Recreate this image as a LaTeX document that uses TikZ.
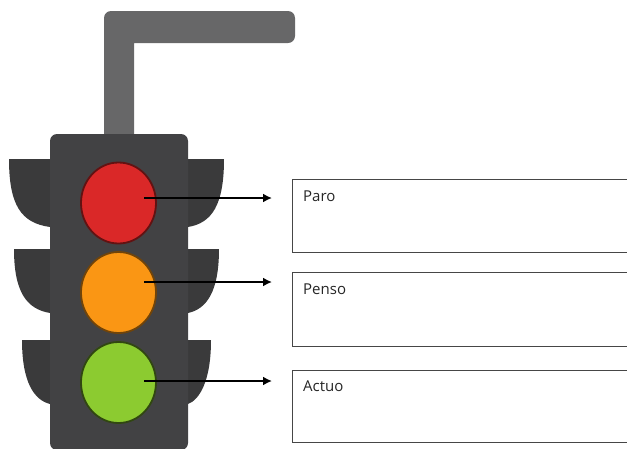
\documentclass[tikz,border=0pt]{standalone}
\usepackage{xcolor}
\usepackage{fontspec}
\setmainfont{Open Sans}
\usepackage{tikz}
\usetikzlibrary{shapes.geometric,arrows.meta}
\definecolor{PoleGray}{RGB}{103,103,104}
\definecolor{BodyGray}{RGB}{66,66,68}
\definecolor{VisorGray}{RGB}{58,58,59}
\definecolor{StopRed}{RGB}{218,40,40}
\definecolor{WaitOrange}{RGB}{250,150,20}
\definecolor{GoGreen}{RGB}{140,203,48}
\definecolor{BoxGray}{RGB}{70,70,70}
\tikzset{
  lamp/.style={ellipse, draw, line width=1.8pt, minimum width=75pt, minimum height=81pt, inner sep=0pt},
  answerbox/.style={draw=BoxGray, line width=1.2pt, fill=white, minimum width=340pt, anchor=north west, inner sep=0pt},
  boxtext/.style={font=\fontsize{15}{17}\selectfont, text=black!85, anchor=west, inner sep=0pt},
  pointer/.style={-{Latex[length=9pt,width=9pt]}, line width=1.7pt, black}
}
\begin{document}
\begin{tikzpicture}[x=1pt,y=-1pt]
  \useasboundingbox (0,0) rectangle (627,448);
  % pole
  \fill[PoleGray, rounded corners=7pt] (104,140) -- (104,11) -- (295,11) -- (295,43) [sharp corners] -- (134,43) -- (134,140) -- cycle;
  % visors
  \foreach \top/\bot/\xl/\xr in {159/227/9/224, 249/313/14/219, 340/404/22/211}{
    \fill[VisorGray] (\xl,\top) -- (60,\top) -- (60,\bot) -- (50,\bot)
      .. controls ({\xl+12},\bot-4) and (\xl,{\bot-22}) .. cycle;
    \fill[VisorGray] (\xr,\top) -- (178,\top) -- (178,\bot) -- (188,\bot)
      .. controls ({\xr-12},\bot-4) and (\xr,{\bot-22}) .. cycle;
  }
  % housing
  \fill[BodyGray, rounded corners=7pt] (50,134) rectangle (188,450);
  % lights
  \node[lamp, fill=StopRed, draw=StopRed!45!black] (lampred) at (118.5,203) {};
  \node[lamp, fill=WaitOrange, draw=WaitOrange!45!black] (lamporange) at (118.5,292.5) {};
  \node[lamp, fill=GoGreen, draw=GoGreen!35!black] (lampgreen) at (118.5,382.5) {};
  % boxes
  \node[answerbox, minimum height=73pt] (boxparo) at (292,179) {};
  \node[answerbox, minimum height=74pt] (boxpenso) at (292,272) {};
  \node[answerbox, minimum height=72pt] (boxactuo) at (292,370) {};
  \node[boxtext] (textparo) at (303,196) {Paro};
  \node[boxtext] (textpenso) at (303,289) {Penso};
  \node[boxtext] (textactuo) at (303,386.5) {Actuo};
  % arrows
  \coordinate (startparo) at (144,198);
  \coordinate (endparo) at (272,198);
  \coordinate (startpenso) at (144,282);
  \coordinate (endpenso) at (272,282);
  \coordinate (startactuo) at (144,381);
  \coordinate (endactuo) at (272,381);
  \draw[pointer] (startparo) -- (endparo);
  \draw[pointer] (startpenso) -- (endpenso);
  \draw[pointer] (startactuo) -- (endactuo);
\end{tikzpicture}
\end{document}
